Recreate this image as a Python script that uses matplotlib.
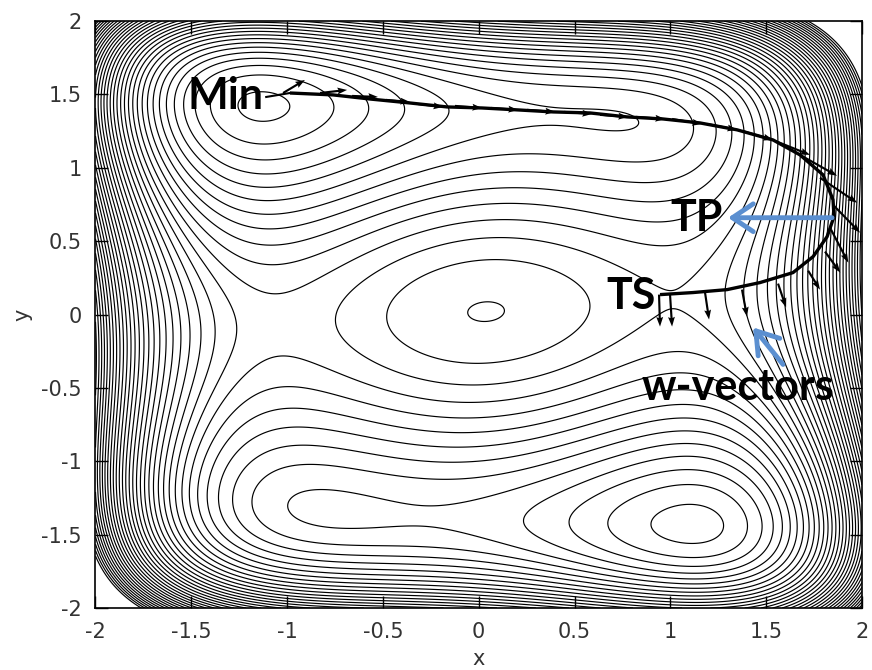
import numpy as np
import matplotlib
matplotlib.use('Agg')
import matplotlib.pyplot as plt

# --- model surface (four-well), coefficients ------------------------------
x_poly = [0.1, 0.8, -2.12, 0.15]   # x^6, x^4, x^2, x
y_poly = [0.1, 0.8, -4.3, 0.15]    # y^6, y^4, y^2, y
xy_coupling = 0.55                 # x*y
diag_quartic = 0.03                # (x + y)^4

center_max = (0.07, 0.02)          # small closed contour in the middle
level_step = 0.5
level_top = 13.5

# --- GAD trajectory from Min to TS ---------------------------------------
path_x = [-0.985, -0.760, -0.567, -0.359, -0.165, 0.017, 0.200, 0.388, 0.581,
          0.774, 0.962, 1.155, 1.348, 1.536, 1.677, 1.797, 1.849, 1.854,
          1.818, 1.745, 1.640, 1.468, 1.296, 1.118, 0.946]
path_y = [1.510, 1.497, 1.469, 1.442, 1.415, 1.408, 1.395, 1.381, 1.374,
          1.347, 1.333, 1.306, 1.259, 1.190, 1.088, 0.952, 0.782, 0.667,
          0.531, 0.395, 0.286, 0.218, 0.170, 0.150, 0.136]

# w-vectors: tails and heads
w_tail_x = [-1.021, -0.828, -0.661, -0.484, -0.317, -0.124, 0.064, 0.252, 0.445,
            0.633, 0.821, 1.009, 1.192, 1.374, 1.546, 1.677, 1.781, 1.849,
            1.839, 1.807, 1.719, 1.562, 1.374, 1.181, 0.998, 0.941]
w_tail_y = [1.510, 1.510, 1.490, 1.463, 1.435, 1.422, 1.408, 1.395, 1.381,
            1.361, 1.347, 1.333, 1.299, 1.252, 1.184, 1.088, 0.932, 0.748,
            0.578, 0.429, 0.299, 0.211, 0.170, 0.150, 0.143, 0.136]
w_head_x = [-0.907, -0.687, -0.526, -0.359, -0.186, 0.017, 0.205, 0.398, 0.591,
            0.779, 0.972, 1.165, 1.348, 1.536, 1.729, 1.870, 1.975, 1.990,
            1.929, 1.887, 1.781, 1.604, 1.400, 1.202, 1.009, 0.946]
w_head_y = [1.599, 1.531, 1.483, 1.449, 1.415, 1.408, 1.395, 1.381, 1.367,
            1.347, 1.333, 1.299, 1.259, 1.190, 1.088, 0.946, 0.762, 0.558,
            0.354, 0.286, 0.170, 0.048, -0.014, -0.034, -0.082, -0.082]

# annotations
labels = ['Min', 'TP', 'TS', 'w-vectors']
label_x = [-1.324, 1.139, 0.795, 1.353]
label_y = [1.49, 0.66, 0.129, -0.497]
leader_x = [-1.109, -0.985]
leader_y = [1.483, 1.510]
callout_tail = [(1.844, 0.660), (1.588, -0.340)]
callout_head = [(1.301, 0.660), (1.432, -0.088)]

ticks = [-2, -1.5, -1, -0.5, 0, 0.5, 1, 1.5, 2]
tick_labels = ['-2', '-1.5', '-1', '-0.5', '0', '0.5', '1', '1.5', '2']


def potential(x, y):
    vx = x_poly[0] * x**6 + x_poly[1] * x**4 + x_poly[2] * x**2 + x_poly[3] * x
    vy = y_poly[0] * y**6 + y_poly[1] * y**4 + y_poly[2] * y**2 + y_poly[3] * y
    return vx + vy + xy_coupling * x * y + diag_quartic * (x + y)**4


gx = np.linspace(-2, 2, 601)
X, Y = np.meshgrid(gx, gx)
V = potential(X, Y)
anchor = potential(*center_max) - 0.017
levels = np.arange(anchor - 40 * level_step, level_top, level_step)

fig = plt.figure(figsize=(8.72, 6.70), dpi=100)
ax = fig.add_axes([0.1095, 0.0925, 0.879, 0.876])

ax.contour(X, Y, V, levels=levels, colors='black', linewidths=0.85,
           linestyles='solid')

# trajectory and w-vectors
ax.plot(path_x, path_y, color='black', lw=2.4, solid_capstyle='butt', zorder=4)
ax.plot(leader_x, leader_y, color='black', lw=1.5, zorder=4)
ax.quiver(w_tail_x, w_tail_y,
          np.subtract(w_head_x, w_tail_x), np.subtract(w_head_y, w_tail_y),
          angles='xy', scale_units='xy', scale=1, color='black',
          width=0.0028, headwidth=3.2, headlength=4.5, headaxislength=4.0,
          zorder=5)

for txt, tx, ty in zip(labels, label_x, label_y):
    ax.text(tx, ty, txt, fontsize=31, fontweight='bold', family='Lato',
            ha='center', va='center', zorder=6)

for tail, head in zip(callout_tail, callout_head):
    ax.annotate('', xy=head, xytext=tail,
                arrowprops=dict(arrowstyle='->,head_length=0.75,head_width=0.5',
                                color='#5b8fd0', lw=3.5, mutation_scale=20,
                                shrinkA=0, shrinkB=0),
                zorder=7)

ax.set_xlim(-2, 2)
ax.set_ylim(-2, 2)
ax.set_xticks(ticks)
ax.set_xticklabels(tick_labels)
ax.set_yticks(ticks)
ax.set_yticklabels(tick_labels)
ax.tick_params(direction='in', length=9, width=1, top=True, right=True,
               labelsize=15, labelcolor='#333333', pad=10)
ax.set_xlabel('x', fontsize=15, color='#333333', labelpad=5)
ax.set_ylabel('y', fontsize=15, color='#333333', labelpad=6)
for sp in ax.spines.values():
    sp.set_linewidth(1.2)

fig.savefig('out.png', dpi=100)
